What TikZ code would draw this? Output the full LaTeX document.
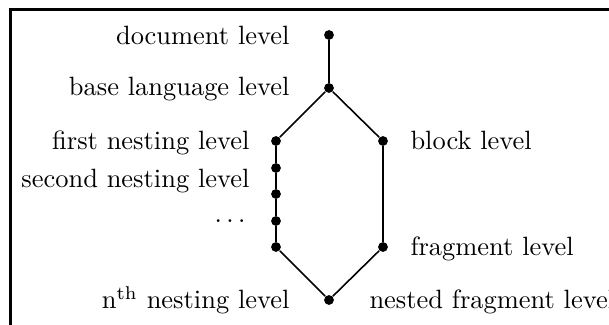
\documentclass[tikz,border=0pt]{standalone}
\begin{document}
\begin{tikzpicture}[x=0.378pt,y=-0.378pt,
  dot/.style={circle,fill=black,inner sep=0pt,minimum size=3.7pt},
  lbll/.style={inner sep=0pt,anchor=base east},
  lblr/.style={inner sep=0pt,anchor=base west},
  thickln/.style={line width=1pt},
  thinln/.style={line width=0.6pt}]
\useasboundingbox (0,0) rectangle (609,325);
\clip (0,0) rectangle (609,325);
\draw[line width=1pt] (10.3,340) -- (10.3,9.3) -- (620,9.3);

% dots
\node[dot] (d1) at (329,35) {};
\node[dot] (d2) at (329,88) {};
\node[dot] (l1) at (276,141) {};
\node[dot] (l2) at (276,168) {};
\node[dot] (l3) at (276,194) {};
\node[dot] (l4) at (276,221) {};
\node[dot] (l5) at (276,247) {};
\node[dot] (b)  at (383,141) {};
\node[dot] (f)  at (383,247) {};
\node[dot] (n)  at (329,300) {};

% edges
\draw[thickln] (d1) -- (d2);
\draw[thinln] (d2) -- (l1);
\draw[thinln] (d2) -- (b);
\draw[thickln] (l1) -- (l2) -- (l3) -- (l4) -- (l5);
\draw[thickln] (b) -- (f);
\draw[thinln] (l5) -- (n);
\draw[thinln] (f) -- (n);

% labels
\node[lbll] (t1) at (290,45) {document level};
\node[lbll] (t2) at (290,96) {base language level};
\node[lbll] (t3) at (250,150) {first nesting level};
\node[lbll] (t4) at (250,188) {second nesting level};
\node[lbll] (t5) at (246,223) {$\ldots$};
\node[lbll] (t6) at (290,309) {n$^{\mathrm{th}}$ nesting level};
\node[lblr] (t7) at (410,150) {block level};
\node[lblr] (t8) at (410,256) {fragment level};
\node[lblr] (t9) at (369,309) {nested fragment level};
\end{tikzpicture}
\end{document}
